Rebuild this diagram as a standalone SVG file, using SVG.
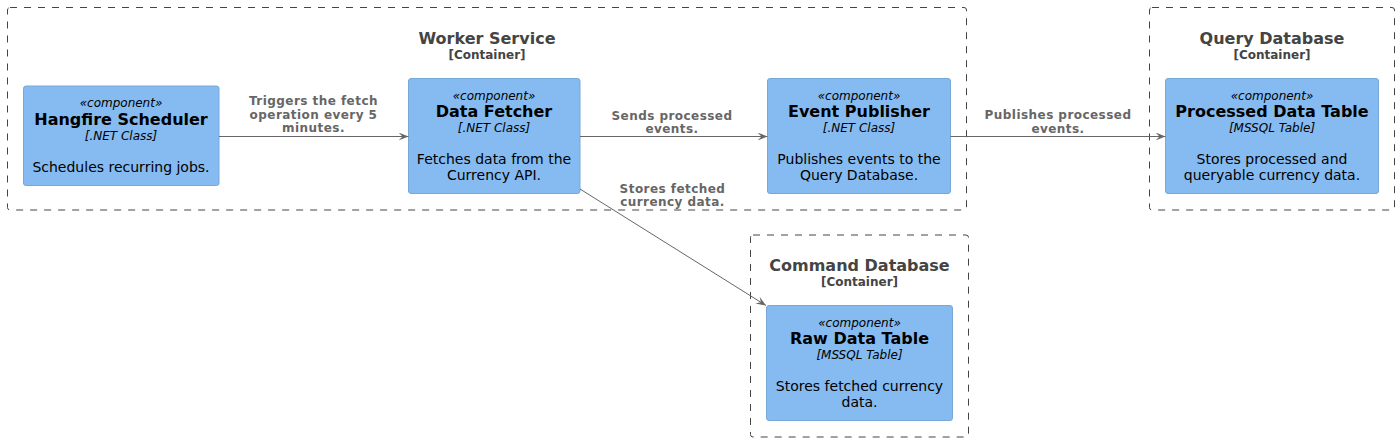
<svg xmlns="http://www.w3.org/2000/svg" width="1400" height="442" viewBox="0 0 1400 442">
<style>
text{font-family:"DejaVu Sans","Liberation Sans",sans-serif;text-anchor:middle}
.bnd{fill:none;stroke:#444444;stroke-width:1;stroke-dasharray:7,7}
.bt{font-size:16px;font-weight:bold;fill:#444444}
.bs{font-size:12px;font-weight:bold;fill:#444444}
.box{fill:#85BBF0;stroke:#78A8D8;stroke-width:1}
.st{font-size:12px;font-style:italic;fill:#000}
.nt{font-size:16px;font-weight:bold;fill:#000}
.ds{font-size:14px;fill:#000}
.ln{stroke:#666666;stroke-width:1;fill:none}
.lb{font-size:12px;font-weight:bold;fill:#666666;letter-spacing:0.45px}
</style>
<defs>
<marker id="ah" viewBox="0 0 10 8" refX="10" refY="4" markerWidth="10" markerHeight="8" markerUnits="userSpaceOnUse" orient="auto">
<path d="M0,0 L10,4 L0,8 L4,4 Z" fill="#666666"/>
</marker>
</defs>
<g id="worker-service">
<rect class="bnd" x="7.5" y="7.5" width="959" height="202.5" rx="2.5"/>
<text class="bt" x="487" y="43.5">Worker Service</text>
<text class="bs" x="487" y="58.5">[Container]</text>
</g>
<g id="query-database">
<rect class="bnd" x="1149.5" y="7.5" width="245" height="202.5" rx="2.5"/>
<text class="bt" x="1272" y="43.5">Query Database</text>
<text class="bs" x="1272" y="58.5">[Container]</text>
</g>
<g id="command-database">
<rect class="bnd" x="750.5" y="235" width="218" height="202" rx="2.5"/>
<text class="bt" x="859.5" y="270.5">Command Database</text>
<text class="bs" x="859.5" y="285.5">[Container]</text>
</g>
<g id="hangfire-scheduler">
<rect class="box" x="23.5" y="86" width="195.5" height="99.5" rx="2.5"/>
<text class="st" x="121" y="107">«component»</text>
<text class="nt" x="121" y="124.5">Hangfire Scheduler</text>
<text class="st" x="121" y="139.5">[.NET Class]</text>
<text class="ds" x="121" y="171.5">Schedules recurring jobs.</text>
</g>
<g id="data-fetcher">
<rect class="box" x="408.5" y="78.5" width="171.5" height="115" rx="2.5"/>
<text class="st" x="494" y="100">«component»</text>
<text class="nt" x="494" y="116.5">Data Fetcher</text>
<text class="st" x="494" y="131.5">[.NET Class]</text>
<text class="ds" x="494" y="163.5">Fetches data from the</text>
<text class="ds" x="494" y="180">Currency API.</text>
</g>
<g id="event-publisher">
<rect class="box" x="767.5" y="78.5" width="183" height="115" rx="2.5"/>
<text class="st" x="859" y="100">«component»</text>
<text class="nt" x="859" y="116.5">Event Publisher</text>
<text class="st" x="859" y="131.5">[.NET Class]</text>
<text class="ds" x="859" y="163.5">Publishes events to the</text>
<text class="ds" x="859" y="180">Query Database.</text>
</g>
<g id="processed-data-table">
<rect class="box" x="1165.5" y="78.5" width="213" height="115" rx="2.5"/>
<text class="st" x="1272" y="100">«component»</text>
<text class="nt" x="1272" y="116.5">Processed Data Table</text>
<text class="st" x="1272" y="131.5">[MSSQL Table]</text>
<text class="ds" x="1272" y="163.5">Stores processed and</text>
<text class="ds" x="1272" y="180">queryable currency data.</text>
</g>
<g id="raw-data-table">
<rect class="box" x="766.5" y="305.5" width="186" height="115" rx="2.5"/>
<text class="st" x="859.5" y="326.5">«component»</text>
<text class="nt" x="859.5" y="343.5">Raw Data Table</text>
<text class="st" x="859.5" y="358.5">[MSSQL Table]</text>
<text class="ds" x="859.5" y="390.5">Stores fetched currency</text>
<text class="ds" x="859.5" y="407">data.</text>
</g>
<g id="connectors">
<line class="ln" x1="219" y1="136.5" x2="408.5" y2="136.5" marker-end="url(#ah)"/>
<text class="lb" x="313.5" y="105">Triggers the fetch</text>
<text class="lb" x="313.5" y="118.5">operation every 5</text>
<text class="lb" x="313.5" y="132">minutes.</text>
<line class="ln" x1="580" y1="136.5" x2="767.5" y2="136.5" marker-end="url(#ah)"/>
<text class="lb" x="672" y="119.5">Sends processed</text>
<text class="lb" x="672" y="133">events.</text>
<line class="ln" x1="950.5" y1="136.5" x2="1165.5" y2="136.5" marker-end="url(#ah)"/>
<text class="lb" x="1058" y="119">Publishes processed</text>
<text class="lb" x="1058" y="132.5">events.</text>
<line class="ln" x1="580" y1="189" x2="766" y2="305.5" marker-end="url(#ah)"/>
<text class="lb" x="672.5" y="192.5">Stores fetched</text>
<text class="lb" x="672.5" y="206">currency data.</text>
</g>
</svg>
